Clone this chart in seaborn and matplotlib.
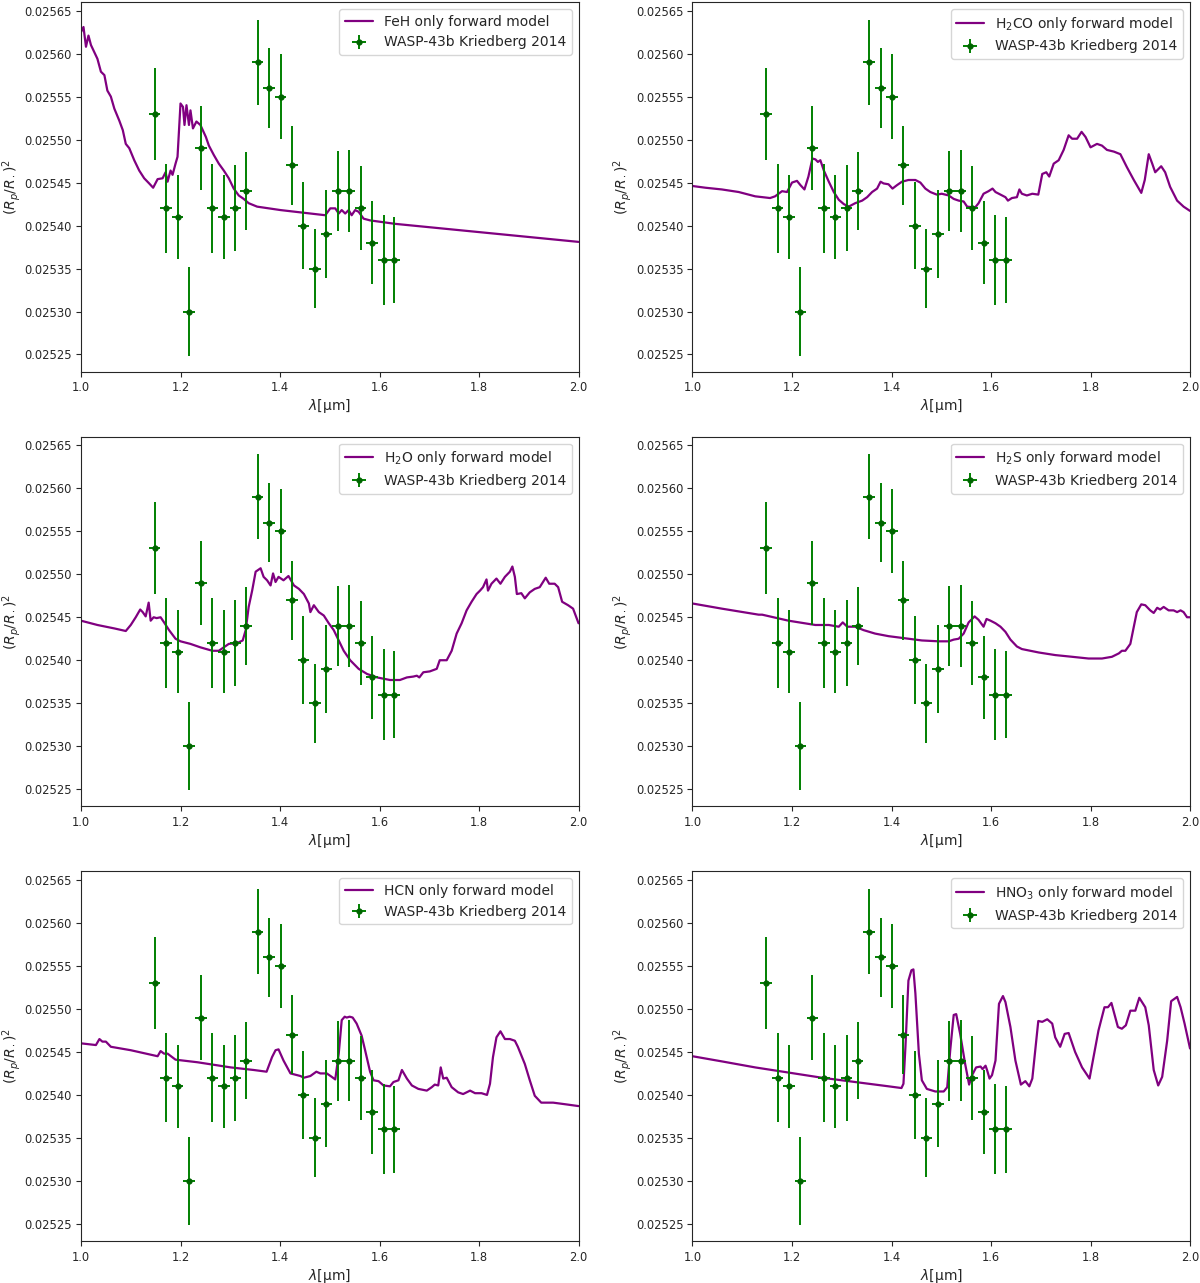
import matplotlib
matplotlib.use('Agg')
import matplotlib.pyplot as plt
import seaborn as sns

# WASP-43b transit depths (Kriedberg 2014)
obs_wl = [1.148, 1.171, 1.194, 1.217, 1.241, 1.264, 1.287, 1.310, 1.332, 1.355, 1.378,
          1.401, 1.424, 1.447, 1.470, 1.493, 1.516, 1.539, 1.562, 1.585, 1.608, 1.630]
obs_depth = [0.02553, 0.02542, 0.02541, 0.02530, 0.02549, 0.02542, 0.02541, 0.02542,
             0.02544, 0.02559, 0.02556, 0.02555, 0.02547, 0.02540, 0.02535, 0.02539,
             0.02544, 0.02544, 0.02542, 0.02538, 0.02536, 0.02536]
obs_err = [5.35e-5, 5.2e-5, 4.85e-5, 5.15e-5, 4.9e-5, 5.2e-5, 4.85e-5, 5.0e-5, 4.5e-5,
           4.95e-5, 4.6e-5, 4.9e-5, 4.6e-5, 5.1e-5, 4.6e-5, 5.1e-5, 4.65e-5, 4.75e-5,
           4.9e-5, 4.85e-5, 5.25e-5, 5.05e-5]
obs_binhalf = 0.0115

# forward models
feh_wl = [1.000, 1.005, 1.010, 1.015, 1.020, 1.033, 1.040, 1.047, 1.053, 1.060, 1.067, 1.077,
          1.084, 1.090, 1.097, 1.107, 1.117, 1.127, 1.137, 1.145, 1.154, 1.164, 1.170, 1.174,
          1.180, 1.184, 1.190, 1.194, 1.200, 1.205, 1.208, 1.212, 1.217, 1.220, 1.225, 1.232,
          1.240, 1.251, 1.257, 1.267, 1.277, 1.287, 1.297, 1.307, 1.317, 1.327, 1.337, 1.354,
          1.401, 1.491, 1.501, 1.511, 1.518, 1.524, 1.531, 1.538, 1.544, 1.551, 1.558, 1.568,
          1.581, 1.631, 2.000]
feh_depth = [0.025625, 0.025631, 0.025608, 0.025621, 0.025610, 0.025594, 0.025579, 0.025575,
             0.025557, 0.025550, 0.025536, 0.025522, 0.025511, 0.025495, 0.025490, 0.025476,
             0.025464, 0.025455, 0.025449, 0.025444, 0.025454, 0.025455, 0.025462, 0.025451,
             0.025464, 0.025459, 0.025472, 0.025480, 0.025542, 0.025538, 0.025517, 0.025540,
             0.025517, 0.025534, 0.025513, 0.025521, 0.025517, 0.025503, 0.025493, 0.025482,
             0.025472, 0.025464, 0.025455, 0.025443, 0.025435, 0.025431, 0.025426, 0.025422,
             0.025418, 0.025412, 0.025420, 0.025420, 0.025414, 0.025418, 0.025414, 0.025418,
             0.025412, 0.025418, 0.025416, 0.025408, 0.025406, 0.025402, 0.025381]

h2co_wl = [1.000, 1.026, 1.059, 1.093, 1.126, 1.156, 1.166, 1.180, 1.190, 1.200, 1.210, 1.217,
           1.225, 1.233, 1.241, 1.247, 1.252, 1.257, 1.264, 1.274, 1.284, 1.294, 1.304, 1.314,
           1.327, 1.341, 1.351, 1.361, 1.371, 1.378, 1.384, 1.394, 1.402, 1.411, 1.421, 1.434,
           1.448, 1.458, 1.468, 1.478, 1.491, 1.501, 1.515, 1.525, 1.535, 1.545, 1.552, 1.568,
           1.575, 1.585, 1.595, 1.603, 1.609, 1.619, 1.629, 1.634, 1.642, 1.652, 1.657, 1.662,
           1.672, 1.683, 1.695, 1.703, 1.711, 1.717, 1.726, 1.736, 1.746, 1.756, 1.763, 1.773,
           1.782, 1.790, 1.800, 1.813, 1.823, 1.833, 1.847, 1.860, 1.873, 1.887, 1.902, 1.909,
           1.917, 1.924, 1.930, 1.942, 1.950, 1.960, 1.974, 1.987, 2.000]
h2co_depth = [0.025446, 0.025444, 0.025442, 0.025439, 0.025434, 0.025432, 0.025434, 0.025440,
              0.025439, 0.025450, 0.025452, 0.025447, 0.025442, 0.025457, 0.025478, 0.025477,
              0.025474, 0.025476, 0.025464, 0.025451, 0.025439, 0.025430, 0.025425, 0.025422,
              0.025426, 0.025429, 0.025433, 0.025439, 0.025443, 0.025451, 0.025449, 0.025448,
              0.025443, 0.025447, 0.025451, 0.025453, 0.025453, 0.025450, 0.025443, 0.025439,
              0.025436, 0.025437, 0.025435, 0.025431, 0.025429, 0.025428, 0.025422, 0.025421,
              0.025426, 0.025437, 0.025440, 0.025443, 0.025439, 0.025436, 0.025433, 0.025429,
              0.025432, 0.025433, 0.025442, 0.025437, 0.025435, 0.025437, 0.025436, 0.025460,
              0.025462, 0.025457, 0.025472, 0.025476, 0.025488, 0.025505, 0.025501, 0.025501,
              0.025509, 0.025503, 0.025491, 0.025495, 0.025493, 0.025488, 0.025486, 0.025483,
              0.025468, 0.025453, 0.025438, 0.025453, 0.025483, 0.025472, 0.025462, 0.025469,
              0.025462, 0.025445, 0.025429, 0.025422, 0.025417]

h2o_wl = [1.000, 1.033, 1.067, 1.090, 1.100, 1.110, 1.119, 1.124, 1.130, 1.136, 1.140, 1.146,
          1.152, 1.160, 1.167, 1.177, 1.190, 1.200, 1.220, 1.240, 1.264, 1.277, 1.287, 1.297,
          1.314, 1.325, 1.331, 1.337, 1.344, 1.351, 1.361, 1.367, 1.374, 1.381, 1.386, 1.391,
          1.397, 1.407, 1.417, 1.428, 1.438, 1.448, 1.458, 1.461, 1.468, 1.478, 1.488, 1.498,
          1.508, 1.518, 1.528, 1.541, 1.558, 1.575, 1.595, 1.621, 1.641, 1.655, 1.668, 1.675,
          1.680, 1.688, 1.701, 1.715, 1.721, 1.735, 1.745, 1.755, 1.765, 1.775, 1.785, 1.795,
          1.802, 1.808, 1.815, 1.818, 1.825, 1.835, 1.843, 1.852, 1.862, 1.867, 1.872, 1.876,
          1.885, 1.892, 1.902, 1.912, 1.922, 1.934, 1.941, 1.952, 1.959, 1.967, 1.979, 1.989,
          2.000]
h2o_depth = [0.025446, 0.025441, 0.025437, 0.025434, 0.025441, 0.025450, 0.025459, 0.025456,
             0.025451, 0.025467, 0.025446, 0.025450, 0.025449, 0.025450, 0.025444, 0.025435,
             0.025425, 0.025422, 0.025419, 0.025415, 0.025411, 0.025411, 0.025415, 0.025419,
             0.025420, 0.025423, 0.025435, 0.025462, 0.025481, 0.025503, 0.025507, 0.025497,
             0.025493, 0.025487, 0.025501, 0.025491, 0.025497, 0.025493, 0.025498, 0.025487,
             0.025483, 0.025477, 0.025466, 0.025456, 0.025464, 0.025456, 0.025452, 0.025443,
             0.025435, 0.025423, 0.025411, 0.025400, 0.025390, 0.025384, 0.025380, 0.025377,
             0.025377, 0.025380, 0.025381, 0.025382, 0.025380, 0.025386, 0.025387, 0.025390,
             0.025400, 0.025400, 0.025411, 0.025431, 0.025443, 0.025458, 0.025468, 0.025477,
             0.025481, 0.025485, 0.025494, 0.025481, 0.025489, 0.025495, 0.025489, 0.025497,
             0.025503, 0.025509, 0.025497, 0.025477, 0.025478, 0.025472, 0.025479, 0.025483,
             0.025485, 0.025496, 0.025489, 0.025489, 0.025485, 0.025468, 0.025464, 0.025460,
             0.025443]

h2s_wl = [1.000, 1.059, 1.133, 1.140, 1.193, 1.247, 1.274, 1.294, 1.302, 1.311, 1.327, 1.344,
          1.367, 1.394, 1.421, 1.461, 1.495, 1.515, 1.525, 1.535, 1.545, 1.555, 1.567, 1.575,
          1.585, 1.591, 1.599, 1.609, 1.619, 1.629, 1.639, 1.652, 1.662, 1.696, 1.729, 1.763,
          1.796, 1.823, 1.843, 1.857, 1.863, 1.870, 1.880, 1.887, 1.893, 1.902, 1.910, 1.920,
          1.927, 1.934, 1.940, 1.947, 1.957, 1.967, 1.974, 1.981, 1.987, 1.994, 2.000]
h2s_depth = [0.025466, 0.025460, 0.025453, 0.025453, 0.025446, 0.025441, 0.025441, 0.025439,
             0.025444, 0.025439, 0.025439, 0.025435, 0.025431, 0.025428, 0.025426, 0.025423,
             0.025422, 0.025422, 0.025424, 0.025425, 0.025431, 0.025444, 0.025451, 0.025447,
             0.025439, 0.025448, 0.025446, 0.025443, 0.025439, 0.025433, 0.025424, 0.025416,
             0.025413, 0.025409, 0.025406, 0.025404, 0.025402, 0.025402, 0.025404, 0.025408,
             0.025411, 0.025411, 0.025419, 0.025439, 0.025456, 0.025465, 0.025464, 0.025458,
             0.025455, 0.025461, 0.025459, 0.025462, 0.025458, 0.025458, 0.025456, 0.025458,
             0.025456, 0.025450, 0.025450]

hcn_wl = [1.000, 1.030, 1.037, 1.043, 1.050, 1.060, 1.100, 1.154, 1.160, 1.167, 1.174, 1.190,
          1.234, 1.301, 1.347, 1.373, 1.384, 1.391, 1.397, 1.407, 1.421, 1.441, 1.448, 1.461,
          1.473, 1.481, 1.494, 1.504, 1.511, 1.518, 1.524, 1.530, 1.534, 1.540, 1.546, 1.554,
          1.564, 1.571, 1.581, 1.588, 1.598, 1.608, 1.621, 1.628, 1.638, 1.645, 1.655, 1.665,
          1.678, 1.695, 1.705, 1.711, 1.718, 1.723, 1.728, 1.735, 1.745, 1.758, 1.768, 1.782,
          1.792, 1.805, 1.816, 1.822, 1.828, 1.835, 1.843, 1.852, 1.862, 1.872, 1.878, 1.892,
          1.902, 1.912, 1.925, 1.949, 1.975, 2.000]
hcn_depth = [0.025460, 0.025458, 0.025465, 0.025462, 0.025462, 0.025456, 0.025452, 0.025445,
             0.025451, 0.025448, 0.025448, 0.025441, 0.025438, 0.025432, 0.025429, 0.025427,
             0.025444, 0.025452, 0.025453, 0.025440, 0.025425, 0.025422, 0.025420, 0.025422,
             0.025427, 0.025425, 0.025425, 0.025421, 0.025418, 0.025448, 0.025487, 0.025491,
             0.025490, 0.025491, 0.025490, 0.025483, 0.025469, 0.025452, 0.025427, 0.025417,
             0.025416, 0.025411, 0.025410, 0.025415, 0.025417, 0.025429, 0.025419, 0.025411,
             0.025407, 0.025405, 0.025409, 0.025412, 0.025411, 0.025432, 0.025419, 0.025420,
             0.025409, 0.025403, 0.025401, 0.025405, 0.025402, 0.025402, 0.025400, 0.025413,
             0.025444, 0.025467, 0.025474, 0.025465, 0.025465, 0.025463, 0.025456, 0.025436,
             0.025417, 0.025399, 0.025391, 0.025391, 0.025389, 0.025387]

hno3_wl = [1.000, 1.059, 1.126, 1.193, 1.260, 1.327, 1.394, 1.420, 1.424, 1.428, 1.434, 1.440,
           1.444, 1.448, 1.455, 1.461, 1.471, 1.488, 1.505, 1.512, 1.518, 1.525, 1.530, 1.538,
           1.548, 1.556, 1.562, 1.570, 1.579, 1.583, 1.589, 1.592, 1.597, 1.602, 1.609, 1.616,
           1.624, 1.629, 1.639, 1.649, 1.660, 1.669, 1.677, 1.683, 1.695, 1.703, 1.713, 1.723,
           1.729, 1.739, 1.748, 1.756, 1.769, 1.783, 1.798, 1.806, 1.816, 1.828, 1.835, 1.842,
           1.855, 1.863, 1.871, 1.880, 1.890, 1.898, 1.910, 1.917, 1.927, 1.936, 1.944, 1.954,
           1.962, 1.974, 1.981, 1.989, 2.000]
hno3_depth = [0.025445, 0.025439, 0.025432, 0.025426, 0.025420, 0.025415, 0.025410, 0.025408,
              0.025413, 0.025456, 0.025533, 0.025545, 0.025546, 0.025518, 0.025448, 0.025417,
              0.025407, 0.025404, 0.025404, 0.025409, 0.025452, 0.025493, 0.025494, 0.025471,
              0.025436, 0.025412, 0.025423, 0.025432, 0.025433, 0.025430, 0.025434, 0.025429,
              0.025419, 0.025423, 0.025440, 0.025506, 0.025515, 0.025508, 0.025479, 0.025440,
              0.025412, 0.025416, 0.025410, 0.025419, 0.025486, 0.025485, 0.025488, 0.025483,
              0.025467, 0.025456, 0.025471, 0.025472, 0.025450, 0.025432, 0.025419, 0.025444,
              0.025475, 0.025502, 0.025502, 0.025507, 0.025479, 0.025477, 0.025481, 0.025498,
              0.025498, 0.025513, 0.025502, 0.025481, 0.025429, 0.025411, 0.025421, 0.025463,
              0.025509, 0.025514, 0.025502, 0.025483, 0.025454]

molecules = ['FeH', 'H$_2$CO', 'H$_2$O', 'H$_2$S', 'HCN', 'HNO$_3$']
model_wl = [feh_wl, h2co_wl, h2o_wl, h2s_wl, hcn_wl, hno3_wl]
model_depth = [feh_depth, h2co_depth, h2o_depth, h2s_depth, hcn_depth, hno3_depth]

sns.set_style('ticks')
plt.rcParams['font.family'] = ['DejaVu Sans']

fig, axes = plt.subplots(3, 2, figsize=(12, 12.83), dpi=100)
fig.subplots_adjust(left=0.0675, right=0.9917, top=0.9984, bottom=0.0327,
                    wspace=0.229, hspace=0.176)

for ax, mol, wl, depth in zip(axes.flat, molecules, model_wl, model_depth):
    sns.lineplot(x=wl, y=depth, ax=ax, color='purple', linewidth=1.6,
                 estimator=None, sort=False, label=f'{mol} only forward model')
    ax.errorbar(obs_wl, obs_depth, yerr=obs_err, xerr=obs_binhalf, fmt='o',
                color='darkgreen', ecolor='green', elinewidth=1.4, markersize=3.5,
                label='WASP-43b Kriedberg 2014')
    ax.set_xlim(1.0, 2.0)
    ax.set_ylim(0.02523, 0.02566)
    ax.ticklabel_format(axis='y', useOffset=False)
    ax.tick_params(axis='y', labelsize=8.3, pad=3)
    ax.tick_params(axis='x', labelsize=8.3)
    ax.set_xlabel(r'$\lambda$[μm]', fontsize=10, labelpad=2)
    ax.set_ylabel(r'$(R_p/R_\cdot)^2$', fontsize=10, labelpad=1)
    ax.legend(loc='upper right', fontsize=10)

fig.savefig('out.png', dpi=100)
